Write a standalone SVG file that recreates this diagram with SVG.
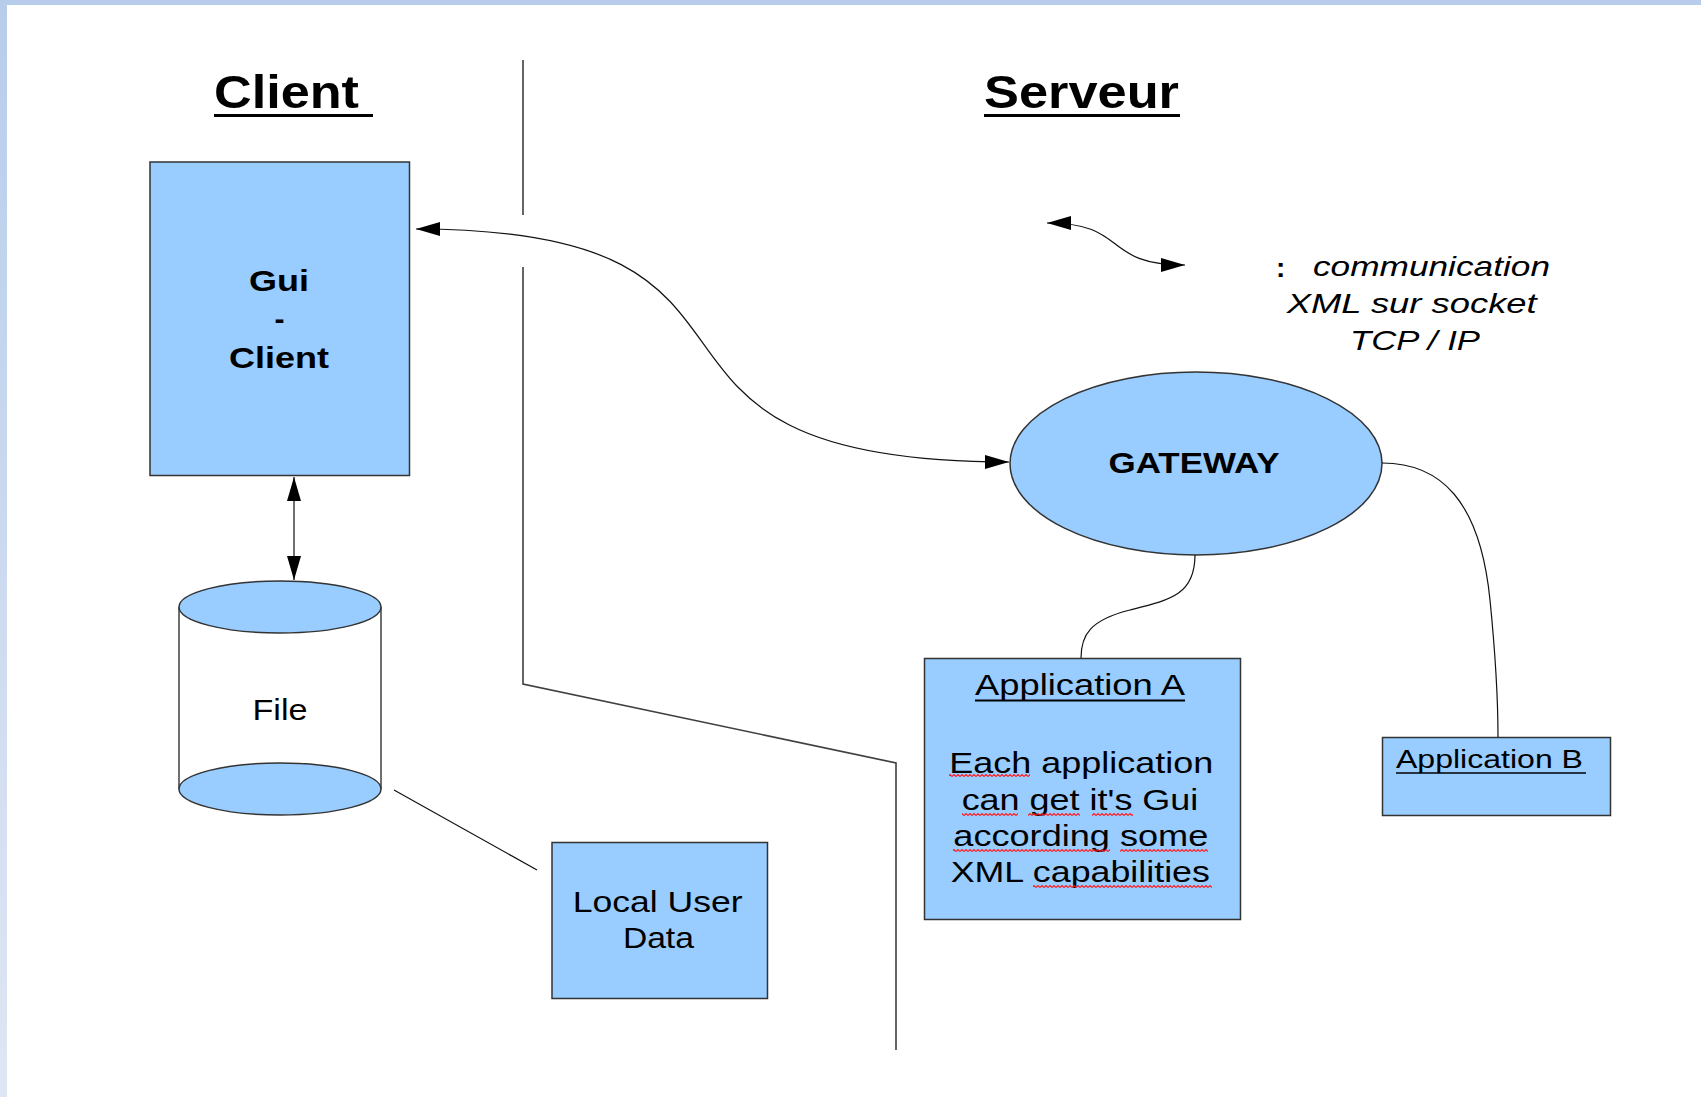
<svg xmlns="http://www.w3.org/2000/svg" width="1701" height="1097" viewBox="0 0 1701 1097">
  <defs>
    <linearGradient id="leftband" x1="0" y1="0" x2="0" y2="1">
      <stop offset="0" stop-color="#b8cdeb"/>
      <stop offset="1" stop-color="#dfe6f3"/>
    </linearGradient>
    <marker id="arrow" viewBox="0 0 24 14" refX="24" refY="7" markerWidth="24" markerHeight="14" markerUnits="userSpaceOnUse" orient="auto-start-reverse">
      <path d="M0 0 L24 7 L0 14 Z" fill="#000"/>
    </marker>
    <pattern id="squiggle" patternUnits="userSpaceOnUse" x="0" y="0" width="4" height="3">
      <path d="M0 2.5 L2 0.5 L4 2.5" fill="none" stroke="#ff1a1a" stroke-width="1.1"/>
    </pattern>
  </defs>
  <style>
    text { font-family: "Liberation Sans", Arial, sans-serif; fill: #000; }
    .title { font-size: 46px; font-weight: bold; }
    .bold30 { font-size: 30px; font-weight: bold; }
    .reg30 { font-size: 30px; }
    .body { font-size: 29px; }
    .legend { font-size: 28px; font-style: italic; }
    .colon { font-size: 28px; font-weight: bold; }
    .box { fill: #99ccff; stroke: #333; stroke-width: 1.5; }
    .conn { fill: none; stroke: #111; stroke-width: 1.2; }
    .sep { fill: none; stroke: #404040; stroke-width: 1.6; }
    .ul { stroke: #000; }
    .sq { fill: url(#squiggle); }
  </style>

  <rect x="0" y="0" width="1701" height="1097" fill="#ffffff"/>
  <rect x="0" y="0" width="1701" height="5" fill="#b8cdeb"/>
  <rect x="0" y="0" width="7" height="1097" fill="url(#leftband)"/>

  <g id="separator">
    <path class="sep" d="M523 60 L523 215 M523 267 L523 684 L896 763 L896 1050"/>
  </g>

  <g id="titles">
    <text class="title" x="214" y="108" textLength="145" lengthAdjust="spacingAndGlyphs">Client</text>
    <line class="ul" x1="214" y1="115.5" x2="373" y2="115.5" stroke-width="3"/>
    <text class="title" x="984" y="108" textLength="195" lengthAdjust="spacingAndGlyphs">Serveur</text>
    <line class="ul" x1="984" y1="115.5" x2="1180" y2="115.5" stroke-width="3"/>
  </g>

  <g id="gui-client">
    <rect class="box" x="150" y="162" width="259.5" height="313.5"/>
    <text class="bold30" x="279" y="291" text-anchor="middle" textLength="60" lengthAdjust="spacingAndGlyphs">Gui</text>
    <text class="bold30" x="279.5" y="329" text-anchor="middle">-</text>
    <text class="bold30" x="279" y="368" text-anchor="middle" textLength="100" lengthAdjust="spacingAndGlyphs">Client</text>
  </g>

  <g id="file">
    <rect x="179" y="607" width="202" height="182" fill="#ffffff" stroke="none"/>
    <line x1="179" y1="607" x2="179" y2="789" stroke="#222" stroke-width="1.3"/>
    <line x1="381" y1="607" x2="381" y2="789" stroke="#222" stroke-width="1.3"/>
    <ellipse class="box" cx="280" cy="789" rx="101" ry="26" stroke-width="1.3"/>
    <ellipse class="box" cx="280" cy="607" rx="101" ry="26" stroke-width="1.3"/>
    <text class="reg30" x="280" y="720" text-anchor="middle" textLength="55" lengthAdjust="spacingAndGlyphs">File</text>
  </g>

  <g id="local-user-data">
    <rect class="box" x="552" y="842.5" width="215.5" height="156"/>
    <text class="reg30" x="657.7" y="912" text-anchor="middle" textLength="170" lengthAdjust="spacingAndGlyphs">Local User</text>
    <text class="reg30" x="658.4" y="948" text-anchor="middle" textLength="71" lengthAdjust="spacingAndGlyphs">Data</text>
  </g>

  <g id="gateway">
    <ellipse class="box" cx="1196" cy="463.5" rx="186" ry="91.5" stroke-width="1.3"/>
    <text class="bold30" x="1194" y="473" text-anchor="middle" textLength="171" lengthAdjust="spacingAndGlyphs">GATEWAY</text>
  </g>

  <g id="legend">
    <text class="colon" x="1276" y="276.5">:</text>
    <text class="legend" x="1313" y="276" textLength="237" lengthAdjust="spacingAndGlyphs">communication</text>
    <text class="legend" x="1286.7" y="313.3" textLength="250" lengthAdjust="spacingAndGlyphs">XML sur socket</text>
    <text class="legend" x="1350" y="350" textLength="130" lengthAdjust="spacingAndGlyphs">TCP / IP</text>
  </g>

  <g id="application-a">
    <rect class="box" x="924.5" y="658.5" width="316" height="261"/>
    <text class="reg30" x="975" y="695" textLength="210" lengthAdjust="spacingAndGlyphs">Application A</text>
    <line class="ul" x1="975" y1="700.5" x2="1185" y2="700.5" stroke-width="2"/>
    <text class="body" x="1081.3" y="773" text-anchor="middle" textLength="264" lengthAdjust="spacingAndGlyphs">Each application</text>
    <text class="body" x="1080" y="810" text-anchor="middle" textLength="236.7" lengthAdjust="spacingAndGlyphs">can get it's Gui</text>
    <text class="body" x="1080.8" y="846" text-anchor="middle" textLength="255" lengthAdjust="spacingAndGlyphs">according some</text>
    <text class="body" x="1080.3" y="882" text-anchor="middle" textLength="259.3" lengthAdjust="spacingAndGlyphs">XML capabilities</text>
    <rect class="sq" x="949" y="774" width="81" height="3"/>
    <rect class="sq" x="962" y="813" width="56" height="3"/>
    <rect class="sq" x="1028" y="813" width="52" height="3"/>
    <rect class="sq" x="1092" y="813" width="41" height="3"/>
    <rect class="sq" x="953" y="849" width="157" height="3"/>
    <rect class="sq" x="1120" y="849" width="88" height="3"/>
    <rect class="sq" x="1033" y="885" width="179" height="3"/>
  </g>

  <g id="application-b">
    <rect class="box" x="1382.5" y="737.5" width="228" height="78"/>
    <text class="reg30" x="1396" y="768" style="font-size:26px" textLength="187" lengthAdjust="spacingAndGlyphs">Application B</text>
    <line class="ul" x1="1396" y1="773" x2="1586" y2="773" stroke-width="1.6"/>
  </g>

  <g id="connectors">
    <path class="conn" d="M416 229 C832 229 572 462 1009 462" marker-start="url(#arrow)" marker-end="url(#arrow)"/>
    <line class="conn" x1="294" y1="477" x2="294" y2="580" marker-start="url(#arrow)" marker-end="url(#arrow)"/>
    <path class="conn" d="M1047 223 C1130 223 1100 265 1185 265" marker-start="url(#arrow)" marker-end="url(#arrow)"/>
    <path class="conn" d="M1195 555 C1195 595 1170 600 1130 610 C1090 620 1081 635 1081 658"/>
    <path class="conn" d="M1382 463 C1440 463 1480 500 1490 600 C1496 660 1498 700 1498 737"/>
    <line class="conn" x1="394" y1="790" x2="537" y2="870"/>
  </g>
</svg>
